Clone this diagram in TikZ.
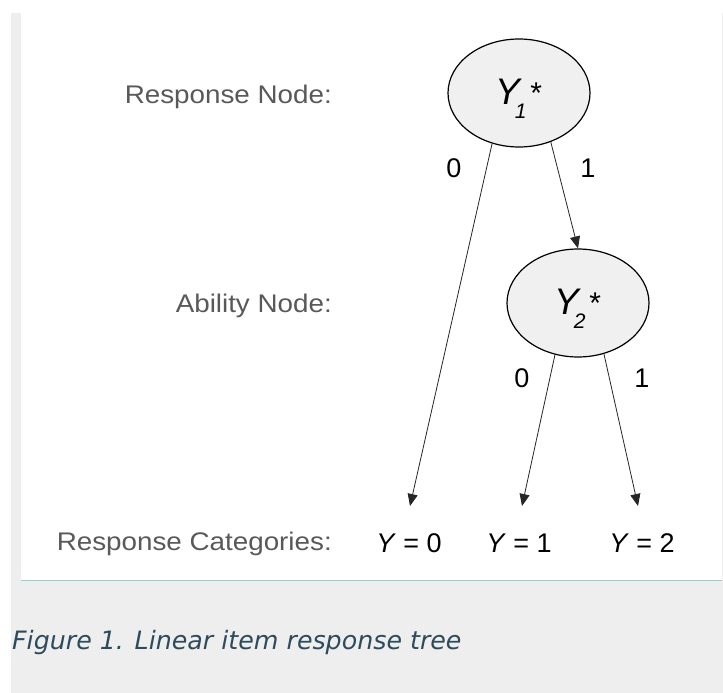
\documentclass[tikz,border=0pt]{standalone}
\usepackage{fontspec}
\setmainfont{Liberation Sans}
\newfontfamily\lblfont[FakeStretch=1.09]{Liberation Sans}
\newfontfamily\capfont{DejaVu Sans}
\usetikzlibrary{shapes.geometric,arrows.meta}
\definecolor{pagegray}{HTML}{EEEEEE}
\definecolor{rulecol}{HTML}{96D2D2}
\definecolor{lblgray}{HTML}{595959}
\definecolor{capcol}{HTML}{2E4B5C}
\definecolor{nodefill}{HTML}{F0F0F0}
% latent response variable: large italic Y, tucked subscript, asterisk
\newcommand{\latentvar}[1]{%
  {\fontsize{37}{37}\selectfont\textit{Y}}%
  \kern-8pt\raisebox{-14pt}{\fontsize{21}{21}\selectfont\textit{#1}}%
  \kern4pt\raisebox{1pt}{\fontsize{30}{30}\selectfont *}}
\begin{document}
\begin{tikzpicture}[x=1pt,y=-1pt,
  latent/.style={ellipse, draw=black, line width=1.2pt, fill=nodefill,
    minimum width=142pt, minimum height=108pt, inner sep=0pt,
    text height=37pt, text depth=15pt},
  rowlabel/.style={anchor=base east, text=lblgray, inner sep=0pt,
    font=\lblfont\fontsize{25.5}{25.5}\selectfont},
  outcome/.style={anchor=base, inner sep=0pt, font=\fontsize{27}{27}\selectfont},
  branch/.style={inner sep=0pt, font=\fontsize{27}{27}\selectfont},
  link/.style={line width=0.8pt, draw=black!85, -{Triangle[length=12pt,width=10pt]}}
]
\useasboundingbox (0,0) rectangle (723,693);
% page background and figure panel
\fill[white] (0,0) rectangle (723,693);
\fill[pagegray] (11,13) rectangle (723,693);
\fill[white] (21,13) rectangle (722,580);
\draw[rulecol, line width=1pt] (21,580) -- (722,580);

% tree nodes
\node[latent] (y1) at (519,93) {\latentvar{1}};
\node[latent] (y2) at (578,303) {\latentvar{2}};

% row labels
\node[rowlabel] (lresp) at (332,103) {Response Node:};
\node[rowlabel] (labil) at (332,312) {Ability Node:};
\node[rowlabel] (lcat) at (332,550) {Response Categories:};

% response categories
\node[outcome] (c0) at (409,552) {\textit{Y} = 0};
\node[outcome] (c1) at (519,552) {\textit{Y} = 1};
\node[outcome] (c2) at (642,552) {\textit{Y} = 2};
\coordinate (t0) at (410,506);
\coordinate (t1) at (522,506);
\coordinate (t2) at (638,506);

% branch values
\node[branch] (b10) at (454,168) {0};
\node[branch] (b11) at (588,168) {1};
\node[branch] (b20) at (522,378) {0};
\node[branch] (b21) at (642,378) {1};

% connectors
\draw[link] (y1.242) -- (t0);
\draw[link] (y1.303) -- (y2.north);
\draw[link] (y2.246) -- (t1);
\draw[link] (y2.297) -- (t2);

% caption
\node[anchor=base west, text=capcol, inner sep=0pt,
  font=\capfont\itshape\fontsize{25.3}{25.3}\selectfont] (cap) at (12,649)
  {Figure 1. Linear item response tree};
\end{tikzpicture}
\end{document}
